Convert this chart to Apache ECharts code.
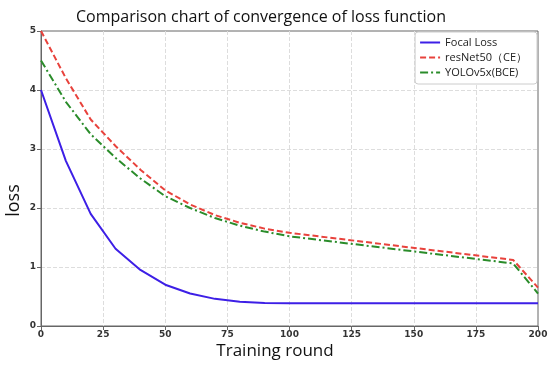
<!DOCTYPE html>
<html><head><meta charset="utf-8">
<script src="https://cdn.jsdelivr.net/npm/echarts@6/dist/echarts.min.js"></script>
<style>html,body{margin:0;padding:0;background:#fff}#c{width:550px;height:368px}</style>
</head><body><div id="c"></div>
<script>
const rounds = [0, 10, 20, 30, 40, 50, 60, 70, 80, 90, 100, 190, 200];
const focalLoss = [4.0, 2.8, 1.9, 1.31, 0.95, 0.7, 0.55, 0.46, 0.41, 0.39, 0.385, 0.385, 0.385];
const resNet50CE = [5.0, 4.2, 3.5, 3.05, 2.65, 2.3, 2.06, 1.88, 1.75, 1.65, 1.58, 1.12, 0.65];
const yolov5xBCE = [4.5, 3.8, 3.25, 2.85, 2.5, 2.2, 2.0, 1.83, 1.7, 1.6, 1.52, 1.06, 0.55];
const seriesNames = ['Focal Loss', 'resNet50（CE）', 'YOLOv5x(BCE)'];
const xTicks = [0, 25, 50, 75, 100, 125, 150, 175, 200];

const pair = (ys) => rounds.map((x, i) => [x, ys[i]]);
const chart = echarts.init(document.getElementById('c'));
const tickStyle = {color: '#333', fontSize: 9, fontFamily: 'DejaVu Sans', fontWeight: 'bold'};
chart.setOption({
  animation: false,
  title: {text: 'Comparison chart of convergence of loss function', left: 256, top: 4, textAlign: 'center',
    textStyle: {fontFamily: 'Open Sans', fontWeight: 'normal', fontSize: 16, color: '#111'}},
  grid: {left: 41, right: 12, top: 31, bottom: 42, show: true, borderColor: '#666', borderWidth: 1,
    outerBoundsMode: 'none', containLabel: false},
  legend: {
    orient: 'vertical', right: 13, top: 32, itemWidth: 20, itemHeight: 9, itemGap: 4,
    backgroundColor: '#fff', borderColor: '#ccc', borderWidth: 1, borderRadius: 3, padding: [5, 10, 6, 4],
    itemStyle: {opacity: 0},
    textStyle: {fontFamily: 'Open Sans', fontSize: 11, color: '#222'},
    data: seriesNames
  },
  xAxis: {
    type: 'value', min: 0, max: 200, interval: 25,
    name: 'Training round', nameLocation: 'middle', nameGap: 17, nameMoveOverlap: false,
    nameTextStyle: {fontFamily: 'Open Sans', fontSize: 17, color: '#111', padding: [0, 29, 0, 0]},
    axisLine: {lineStyle: {color: '#666'}}, axisTick: {show: true, length: 4, lineStyle: {color: '#666'}},
    axisLabel: Object.assign({margin: 4, formatter: v => xTicks.includes(v) ? String(v) : ''}, tickStyle),
    splitLine: {show: true, showMinLine: false, showMaxLine: false, lineStyle: {color: '#ddd', type: 'dashed'}}
  },
  yAxis: {
    type: 'value', min: 0, max: 5, interval: 1,
    name: 'loss', nameLocation: 'middle', nameGap: 18, nameMoveOverlap: false,
    nameTextStyle: {fontFamily: 'Open Sans', fontSize: 18, color: '#111', padding: [0, 44, 0, 0]},
    axisLine: {show: true, lineStyle: {color: '#666'}}, axisTick: {show: true, length: 4, lineStyle: {color: '#666'}},
    axisLabel: Object.assign({margin: 5}, tickStyle),
    splitLine: {show: true, showMinLine: false, showMaxLine: false, lineStyle: {color: '#ddd', type: 'dashed'}}
  },
  series: [
    {name: seriesNames[0], type: 'line', data: pair(focalLoss), symbol: 'none', z: 3,
      lineStyle: {color: '#3d1fe6', width: 2}, itemStyle: {color: '#3d1fe6'}},
    {name: seriesNames[1], type: 'line', data: pair(resNet50CE), symbol: 'none', z: 2,
      lineStyle: {color: '#e8423c', width: 2, type: [6, 3]}, itemStyle: {color: '#e8423c'}},
    {name: seriesNames[2], type: 'line', data: pair(yolov5xBCE), symbol: 'none', z: 2,
      lineStyle: {color: '#2a8c2a', width: 2, type: [8, 3, 2, 3]}, itemStyle: {color: '#2a8c2a'}}
  ]
});
</script></body></html>
